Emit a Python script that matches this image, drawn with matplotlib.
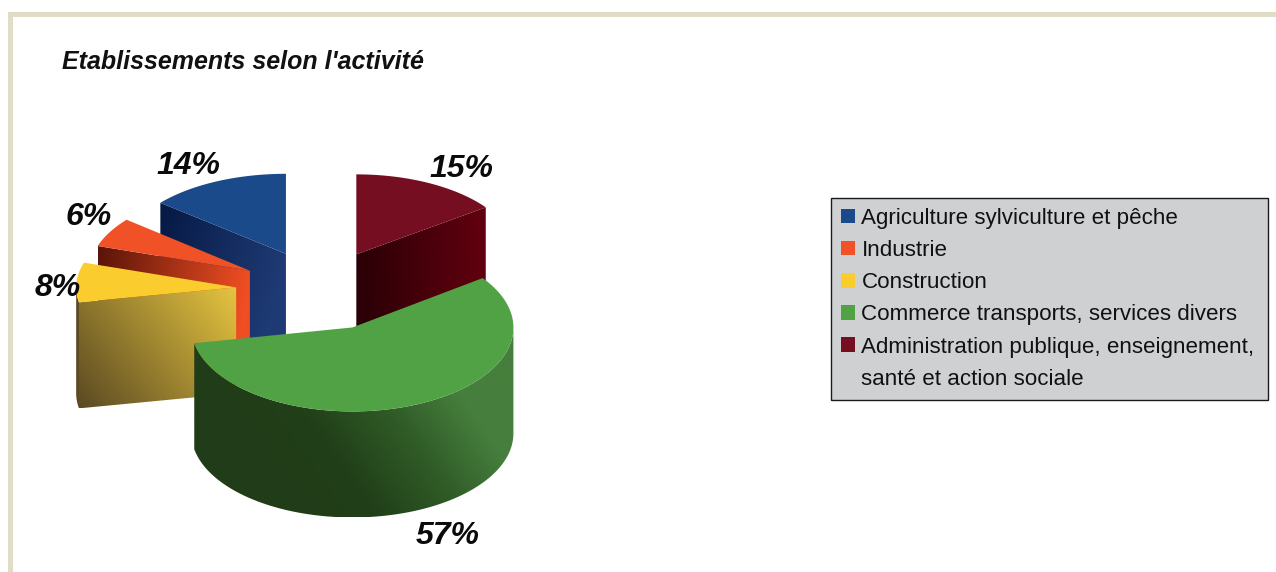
import numpy as np
import matplotlib
matplotlib.use("Agg")
import matplotlib.pyplot as plt
from matplotlib.colors import LinearSegmentedColormap
from matplotlib.patches import Patch, Polygon, Rectangle

plt.rcParams['font.family'] = ['Liberation Sans', 'DejaVu Sans']

# Donnees
titre = "Etablissements selon l'activité"
categories = ["Agriculture sylviculture et pêche", "Industrie", "Construction",
              "Commerce transports, services divers",
              "Administration publique, enseignement,"]
suite_legende = "santé et action sociale"
valeurs = [14, 6, 8, 57, 15]

# Style
couleurs = ["#1a4a8a", "#f05127", "#fbcc2e", "#51a245", "#760e21"]
faces = [["#071a45", "#1e3a74"], ["#5a1408", "#f04e23"], ["#5b4a22", "#e6c440"],
         ["#51a245", "#51a245"], ["#62000f", "#2a0006"]]
inclinaison = [0.15, 0, 1, 0, 0.4]
parois = {2: ["#5b4a22", "#6b5826"], 3: ["#203c18", "#213f19", "#2f5a26", "#467f3d"]}
explosion = [0.5, 0.5, 0.525, 0.51, 0.5]
pos_etiquettes = [(188, 166), (89, 217), (58, 288), (448, 536), (461, 169)]
ordre = [0, 4, 1, 2, 3]  # de l'arriere vers l'avant
cx, cy = 320, 290
rayons_x = [163, 160, 160, 161, 160]
rayons_y = [80, 80, 80, 84, 80]
hauteur = 106


def degrade(poly, cols, p0, p1, z):
    # rempli un polygone avec un degrade entre p0 et p1
    x0, y0 = poly.min(axis=0)
    x1, y1 = poly.max(axis=0)
    xx, yy = np.meshgrid(np.linspace(x0, x1, 200), np.linspace(y0, y1, 200))
    d = np.array(p1) - np.array(p0)
    t = ((xx - p0[0]) * d[0] + (yy - p0[1]) * d[1]) / (d @ d)
    cmap = LinearSegmentedColormap.from_list("d", cols)
    im = ax.imshow(np.clip(t, 0, 1), cmap=cmap, vmin=0, vmax=1, extent=(x0, x1, y1, y0),
                   aspect='auto', interpolation='bilinear', zorder=z)
    clip = Polygon(poly, closed=True, transform=ax.transData)
    im.set_clip_path(clip)


fig = plt.figure(figsize=(12.76, 5.72), dpi=100)
ax = fig.add_axes([0, 0, 1, 1])
ax.axis('off')

# cadre beige
ax.add_patch(Rectangle((8, 12), 1300, 5, fc="#e0dcc6", ec='none', zorder=0))
ax.add_patch(Rectangle((8, 12), 5, 600, fc="#e0dcc6", ec='none', zorder=0))

# secteurs, sens anti-horaire depuis le haut
bornes = 90 + np.cumsum([0] + valeurs) * 3.6
z = 1
for i in ordre:
    a0, a1 = np.radians(bornes[i]), np.radians(bornes[i + 1])
    rx, ry = rayons_x[i], rayons_y[i]
    milieu = (a0 + a1) / 2
    ox = cx + explosion[i] * 160 * np.cos(milieu)
    oy = cy - explosion[i] * 80 * np.sin(milieu)
    ang = np.linspace(a0, a1, 200)
    bord = np.column_stack([ox + rx * np.cos(ang), oy - ry * np.sin(ang)])

    # faces radiales visibles
    for a, ok in ((a0, np.cos(a0) > 1e-6), (a1, np.cos(a1) < -1e-6)):
        if ok:
            ext = np.array([ox + rx * np.cos(a), oy - ry * np.sin(a)])
            quad = np.array([[ox, oy], ext, ext + [0, hauteur], [ox, oy + hauteur]])
            degrade(quad, faces[i], ext + [0, hauteur * inclinaison[i]], (ox, oy), z)
            z += 1

    # paroi exterieure
    if i in parois:
        av = np.sin(ang) < 0
        arc = bord[av]
        mur = np.vstack([arc, arc[::-1] + [0, hauteur]])
        degrade(mur, parois[i], (ox - 60, oy + 190), (ox + 110, oy + 70), z)
        z += 1

    # dessus
    ax.add_patch(Polygon(np.vstack([[ox, oy], bord]), closed=True, fc=couleurs[i],
                         ec='none', zorder=z))
    z += 1

ax.set_xlim(0, 1276)
ax.set_ylim(572, 0)

ax.text(62, 62, titre, fontsize=18, fontweight='bold', fontstyle='italic',
        va='center', ha='left', color="#111111", zorder=50)

for v, (x, y) in zip(valeurs, pos_etiquettes):
    ax.text(x, y, f"{v}%", fontsize=23, fontweight='bold', fontstyle='italic',
            ha='center', va='center', color="#0a0a0a", zorder=50)

# legende
poignees = [Patch(fc=c, ec='none') for c in couleurs] + [Patch(fc='none', ec='none')]
leg = ax.legend(poignees, categories + [suite_legende], loc='upper left',
                bbox_to_anchor=(831 / 1276, 1 - 198 / 572, 437 / 1276, 0), mode='expand',
                fontsize=16.1, handlelength=0.62, handleheight=0.62, handletextpad=0.3,
                labelspacing=0.5, borderpad=0.44, borderaxespad=0, fancybox=False,
                framealpha=1, facecolor="#cfd0d2", edgecolor="#1a1a1a",
                labelcolor="#111111")
leg.get_frame().set_linewidth(1.0)
leg.set_zorder(60)

fig.savefig("out.png", dpi=100)
